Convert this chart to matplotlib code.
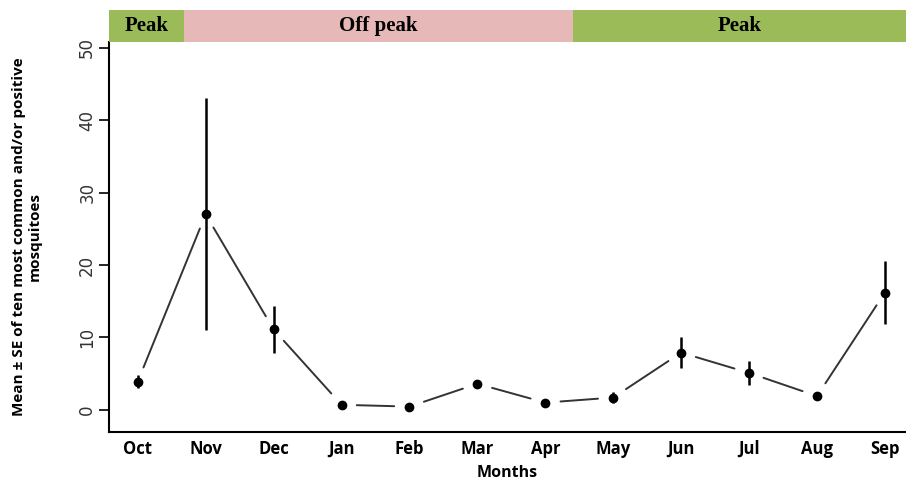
import matplotlib
matplotlib.use("Agg")
import matplotlib.pyplot as plt

months = ["Oct", "Nov", "Dec", "Jan", "Feb", "Mar", "Apr", "May", "Jun", "Jul", "Aug", "Sep"]
means = [3.9, 27.0, 11.1, 0.7, 0.45, 3.6, 1.0, 1.7, 7.9, 5.1, 1.9, 16.2]
se = [0.9, 16.0, 3.3, 0.3, 0.3, 0.5, 0.3, 0.8, 2.1, 1.6, 0.4, 4.3]

# season bands: (start, end, label, colour) in month-index units
seasons = [
    (0.573, 1.68, "Peak", "#9BBB59"),
    (1.68, 7.41, "Off peak", "#E6B9B8"),
    (7.41, 12.31, "Peak", "#9BBB59"),
]

fig = plt.figure(figsize=(9.06, 4.82), dpi=100)
ax = fig.add_axes([0.120, 0.104, 0.880, 0.809])
band = fig.add_axes([0.120, 0.913, 0.880, 0.066], sharex=ax)

x = list(range(1, len(months) + 1))

# lines with gaps around points (like R type="b")
for i in range(len(x) - 1):
    ax.annotate("", xy=(x[i + 1], means[i + 1]), xytext=(x[i], means[i]),
                arrowprops=dict(arrowstyle="-", color="#333333", lw=1.4,
                                shrinkA=11, shrinkB=11))

ax.errorbar(x, means, yerr=se, fmt="o", color="black", ms=6,
            elinewidth=1.8, capsize=0, zorder=3)

ax.set_xlim(0.573, 12.31)
ax.set_ylim(-3.04, 50.8)
ax.set_yticks([0, 10, 20, 30, 40, 50])
ax.set_yticklabels(["0", "10", "20", "30", "40", "50"], rotation=90, va="center",
                   color="#333333", fontsize=12)
ax.tick_params(axis="y", length=7, width=1.2, pad=2)
ax.set_xticks(x)
ax.set_xticklabels(months, fontweight="bold", fontsize=12, family="Open Sans")
ax.tick_params(axis="x", length=0, pad=6)
for s in ["top", "right"]:
    ax.spines[s].set_visible(False)
for s in ["left", "bottom"]:
    ax.spines[s].set_linewidth(1.5)

ax.set_xlabel("Months", fontweight="bold", fontsize=11.5, family="Open Sans", labelpad=5)
ax.set_ylabel("Mean \u00b1 SE of ten most common and/or positive\nmosquitoes",
              fontweight="bold", fontsize=11, family="Open Sans", labelpad=26)

for start, end, label, col in seasons:
    band.axvspan(start, end, color=col, lw=0)
    band.text((start + end) / 2, 0.5, label, ha="center", va="center",
              fontweight="bold", fontsize=15, family="Liberation Serif")
band.set_ylim(0, 1)
band.axis("off")

fig.savefig("out.png", dpi=100)
